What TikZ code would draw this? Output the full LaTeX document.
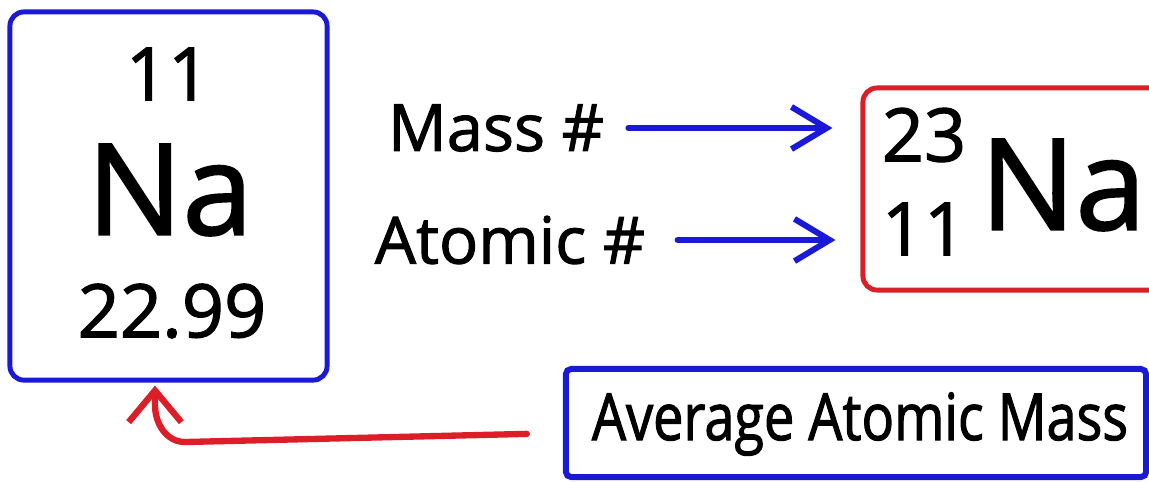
\documentclass[tikz,border=0pt]{standalone}
\usepackage{fontspec}
\setmainfont{Open Sans}[FakeBold=1.6]
\newfontfamily\narrowfont{Open Sans}[FakeStretch=0.83, FakeBold=1.6]
\usetikzlibrary{arrows.meta}

\definecolor{penblue}{RGB}{25,25,215}
\definecolor{penred}{RGB}{220,30,40}

\tikzset{
  elbox/.style={draw=penblue, line width=1.4pt, rounded corners=4pt,
    minimum width=3.17cm, minimum height=3.68cm},
  isobox/.style={draw=penred, line width=1.4pt, rounded corners=4pt,
    minimum width=3.02cm, minimum height=2.02cm},
  notebox/.style={draw=penblue, line width=1.7pt, rounded corners=1.5pt,
    minimum width=5.8cm, minimum height=1.08cm},
  num/.style={font=\fontsize{21}{21}\selectfont},
  sym/.style={font=\fontsize{36}{36}\selectfont},
  lbl/.style={font=\fontsize{18.5}{18.5}\selectfont},
  pointer/.style={line width=1.7pt, line cap=round,
    -{Straight Barb[length=10pt, width=12pt]}},
}

\begin{document}
\begin{tikzpicture}[x=0.01cm, y=-0.01cm]

  \clip (0,0) rectangle (1149,481);

  % periodic table tile
  \node[elbox] (nabox) at (168.5,196) {};
  \node[num] (z1) at (168,74) {11};
  \node[sym] (na1) at (170,190) {Na};
  \node[num] (mass1) at (172,311) {22.99};

  % isotope notation
  \node[isobox] (iso) at (1014,189) {};
  \node[num] (a2) at (924,135) {23};
  \node[num] (z2) at (924,229) {11};
  \node[sym] (na2) at (1063,185) {Na};

  \node[lbl] (massnum) at (496,128) {Mass \#};
  \node[lbl] (atnum) at (510,240) {Atomic \#};

  \draw[pointer, draw=penblue, shorten <=0.12cm, shorten >=0.28cm]
    (massnum.east) -- (massnum.east -| iso.west);
  \draw[pointer, draw=penblue, shorten <=0.2cm, shorten >=0.25cm]
    (atnum.east) -- (atnum.east -| iso.west);

  % average atomic mass
  \node[notebox] (avg) at (856,423) {};
  \node[lbl] (avgtxt) at (860,424) {\narrowfont Average Atomic Mass};

  \coordinate (bend) at (185,442);
  \coordinate (rise) at (155,405);
  \draw[line width=1.8pt, line cap=round, draw=penred,
    -{Straight Barb[length=9pt, width=15pt]}, shorten <=0.36cm, shorten >=0.03cm]
    ([yshift=-0.1cm]avg.west) -- (bend) to[out=180,in=-90] (rise)
    -- (nabox.south -| rise);

\end{tikzpicture}
\end{document}
